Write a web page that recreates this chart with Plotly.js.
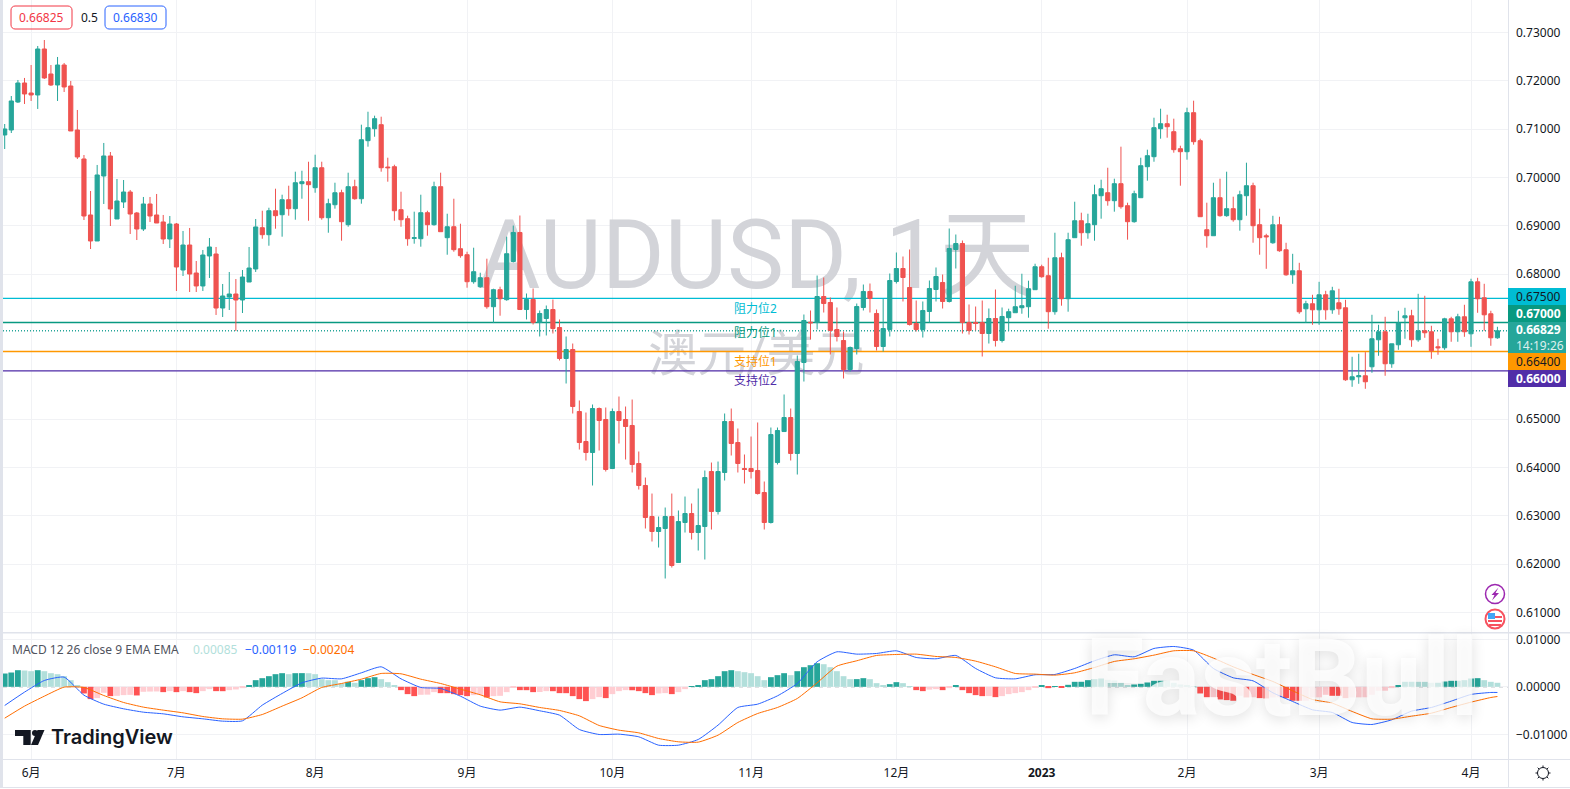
<!DOCTYPE html>
<html>
<head>
<meta charset="utf-8">
<script src="https://cdn.plot.ly/plotly-3.0.1.min.js"></script>
<style>
html, body { margin: 0; padding: 0; background: #fff; overflow: hidden; }
#chart { width: 1570px; height: 789px; }
</style>
</head>
<body>
<div id="chart"></div>
<script>
// prices are in 0.00001 units, one entry per daily candle
var opens = [70877,70980,71559,71952,71745,71704,72655,72138,71911,72324,
71890,70980,70381,69223,68685,70029,70443,69140,69491,69698,
69264,68933,69450,69223,69078,68726,69036,68085,68602,68023,
67755,68375,68416,67299,67527,67589,67465,67837,68106,68960,
68815,69311,69228,69539,69353,69870,69911,69787,70200,69166,
69435,69683,69022,69808,69559,70759,71007,71090,70214,70221,
69332,69146,68739,68732,69270,69022,69808,68753,68980,68525,
68401,67843,67740,67926,67326,67678,67471,68261,68861,67268,
67475,66999,67082,67268,66896,66255,66441,65159,64539,64311,
65221,64994,63980,65159,64994,64870,64084,63629,62988,62678,
62740,62988,62037,62864,63050,62657,62781,63918,63091,63898,
64952,64518,63980,63980,63939,63484,62864,64104,64745,65035,
64291,66172,67006,66999,67537,67413,66855,66627,66028,66462,
67310,67641,67186,66503,66855,67847,68116,67723,66979,66855,
67227,67682,67827,67434,68509,68633,66999,66999,66999,66772,
67082,66627,67099,67202,67305,67326,67678,68153,67967,67223,
68339,67491,68753,69104,68856,69022,69621,69683,69518,69870,
69415,69084,69580,70221,70428,71007,71110,70945,70593,70531,
71338,70759,68918,68794,69580,69208,69353,69125,69621,69828,
69022,68793,68648,69020,68503,67986,68069,67283,67387,67262,
67573,67262,67407,67304,65815,65877,65898,66084,66642,66808,
66146,66539,67097,67138,66642,66828,66808,66497,66477,67076,
66808,67118,66766,67841,67511,67180,66683];
var highs = [71104,71683,72014,72056,72324,72717,72841,72324,72490,72366,
71994,71394,70463,69719,70257,70712,70525,69967,69946,69740,
69285,69595,69595,69657,69223,69202,69057,68892,68954,68271,
68499,68747,68561,67796,68044,67899,68085,68561,69140,69311,
69373,69766,69642,69828,70118,70138,70324,70469,70324,69559,
69890,69745,70097,69952,71090,71358,71276,71255,70407,70262,
69704,69208,69291,69642,69311,69911,70097,69249,69559,69042,
68463,68546,68029,68319,67698,67740,68774,69005,69212,67599,
67703,67248,67351,67475,67062,66710,66565,65387,65138,65304,
65242,65242,65221,65469,65262,65407,64332,63794,63463,62988,
63174,63463,63112,63401,63257,63567,63939,64104,64125,65118,
65221,64808,64270,64642,64932,63712,64828,64828,65511,65221,
66317,67165,67248,67971,67930,67516,67310,66813,66503,67392,
67785,67806,67268,67489,68013,68447,68364,68509,67454,67434,
67868,68137,67992,68943,68819,68695,67372,67330,67454,67289,
67682,67310,67285,67760,68008,67864,68215,68195,68339,68856,
68443,68856,69497,69270,69249,69849,69952,70200,69973,70635,
69477,69725,70407,70573,71234,71420,71296,71214,70655,71441,
71586,70800,69477,69890,69973,70118,69601,69725,70304,69890,
69353,68834,69206,69186,68648,68420,68234,67449,67573,67841,
67655,67738,67697,67469,66291,66353,66387,67159,66952,67118,
66559,67242,67304,67262,67593,67552,66932,66663,67097,67118,
67180,67366,67904,67924,67800,67242,66911];
var lows = [70587,70918,71539,71518,71580,71415,72035,71890,71580,71766,
70960,70381,69119,68519,68685,69450,68995,69140,69367,68830,
68705,68892,69078,69057,68623,68540,67651,67961,67630,67630,
67651,67920,67155,67113,67258,66824,67196,67837,68044,68732,
68587,68939,68774,69208,69125,69559,69104,69683,69125,68856,
69353,68691,68980,69539,69456,70635,70841,70118,69911,69104,
68980,68587,68629,68567,68794,69001,68877,68401,68463,68339,
67719,67802,67719,67285,66988,67140,67450,68240,67268,67062,
66958,66710,66731,66772,66214,65738,65118,64373,64146,63629,
64353,63918,63980,64497,64166,63898,63546,62740,62471,62347,
61706,61933,62037,62657,62512,62285,62099,62719,63029,63732,
64249,63898,63670,63774,63443,62719,62843,64063,64745,64146,
63856,65779,66648,66855,67206,66338,66607,65841,65986,66338,
67248,67206,66420,66400,66710,67806,67434,66937,66813,66689,
66999,67434,67289,67413,68116,66772,66751,66834,66296,66565,
66503,66586,66830,67202,67181,67099,67678,67926,66871,67161,
67347,67223,68753,68587,68732,68691,69146,69415,69291,69353,
68712,69063,69580,69932,70324,70800,70821,70511,69828,70366,
70676,69187,68546,68794,69187,69187,69084,68898,69208,68649,
68401,68110,68627,68462,67966,67800,67180,66994,66952,66952,
67056,67180,67159,65794,65670,65732,65629,65960,66311,65898,
66063,66435,66663,66497,66601,66683,66249,66332,66435,66601,
66601,66704,66497,67200,66828,66518,66663];
var closes = [71001,71580,71952,71725,71704,72655,72056,71911,72324,71870,
70960,70422,69202,68685,70050,70443,69347,69512,69698,69243,
68933,69450,69202,69057,68726,69036,68147,68602,68002,67755,
68395,68561,67299,67548,67589,67465,67940,68126,68975,68815,
69311,69208,69539,69353,69890,69911,69849,70200,69166,69456,
69683,69084,69808,69559,70779,71028,71214,70200,70200,69311,
69125,68732,68753,69270,69022,69808,68877,68980,68505,68381,
67843,68050,67926,67326,67678,67491,68422,68861,67268,67475,
66999,67186,67268,66875,66255,66441,65262,64518,64311,65221,
64973,63960,65159,64973,64849,64063,63629,62967,62678,62760,
62988,61975,62884,63050,62657,62802,63794,63091,63918,64952,
64497,64084,63960,63918,63463,62864,64683,64766,65035,64291,
66193,67041,66993,67537,67392,66834,66710,66028,66483,67330,
67641,67496,66503,66875,67868,68116,67930,66958,66855,67248,
67703,67951,67434,68530,68633,66999,66834,66979,66772,67082,
66627,67124,67223,67326,67347,67698,68153,67946,67223,68339,
67491,68712,69104,68856,69042,69642,69766,69518,69870,69394,
69084,69663,70242,70449,71028,71110,71048,70573,70531,71338,
70738,69187,68794,69580,69208,69353,69125,69642,69828,69001,
68753,68772,69020,68483,67986,68069,67221,67387,67262,67573,
67262,67655,67283,65815,65877,65898,65774,66663,66808,66146,
66559,66987,67138,66642,66828,66787,66415,66477,67076,66808,
67118,66808,67841,67490,67159,66683,66829];

// MACD histogram, one bar per candle
var hist = [280,301,350,343,329,350,329,287,266,224,
140,35,-140,-259,-238,-126,-196,-190,-175,-170,
-182,-105,-100,-98,-112,-91,-112,-91,-112,-133,
-91,-49,-91,-92,-70,-56,-28,35,140,182,
224,266,287,266,287,288,286,266,161,140,
139,70,105,84,140,182,203,161,98,21,
-70,-154,-196,-168,-165,-112,-133,-134,-154,-175,
-196,-175,-170,-224,-196,-190,-112,-14,-70,-71,
-112,-110,-91,-92,-133,-134,-196,-259,-301,-259,
-217,-238,-154,-91,-70,-72,-91,-133,-175,-140,
-133,-154,-112,-49,5,35,140,161,224,329,
350,329,308,287,224,140,203,245,287,245,
329,413,455,497,476,413,329,224,161,162,
182,161,77,35,56,98,77,14,-70,-91,
-60,-49,-70,-28,35,-70,-133,-175,-196,-195,
-217,-196,-154,-133,-112,-70,-5,21,-28,14,
-14,42,105,106,140,161,175,147,133,91,
35,49,63,91,126,127,125,84,49,35,
7,-140,-238,-236,-266,-280,-294,-189,-224,-220,
-238,-245,-224,-220,-238,-294,-295,-294,-224,-222,
-168,-189,-190,-238,-224,-222,-220,-168,-84,-82,
-28,35,105,106,105,104,84,85,112,126,
127,140,175,182,140,105,85];

// MACD and signal lines, read every third candle
var macdIdx = [0,3,6,9,12,15,18,21,24,27,30,33,36,39,42,45,48,51,54,57,60,63,66,69,72,75,78,
81,84,87,90,93,96,99,102,105,108,111,114,117,120,123,126,129,132,135,138,141,144,147,150,153,156,
159,162,165,168,171,174,177,180,183,186,189,192,195,198,201,204,207,210,213,216,219,222,225,226];
var macdLine = [-393,-112,133,204,-176,-365,-463,-534,-569,-632,-674,-723,-716,-386,-140,84,183,168,295,421,168,-14,-35,-197,-407,-491,-428,
-505,-597,-899,-1004,-997,-1053,-1229,-1229,-1109,-807,-435,-365,-190,70,527,737,688,702,758,618,590,660,386,190,168,253,
260,386,548,674,632,807,849,772,386,190,126,-126,-309,-484,-541,-751,-793,-695,-512,-435,-302,-161,-119,-119];
var signalLine = [-660,-407,-197,-7,-14,-183,-330,-428,-491,-548,-625,-674,-681,-583,-407,-232,-14,70,161,281,274,161,70,-49,-168,-316,-358,
-435,-498,-611,-814,-913,-969,-1088,-1158,-1165,-1018,-751,-562,-435,-246,84,435,548,660,681,688,639,618,541,421,281,267,
246,295,407,534,590,667,758,758,604,421,260,112,-84,-267,-344,-519,-674,-681,-618,-555,-435,-323,-225,-204];

var monthIdx = [4,26,47,70,92,113,135,157,179,199,222];
var monthText = ['6月','7月','8月','9月','10月','11月','12月','<b>2023</b>','2月','3月','4月'];
var priceTicks = [0.61,0.62,0.63,0.64,0.65,0.66,0.67,0.68,0.69,0.70,0.71,0.72,0.73];
var macdTicks = [-0.01,0,0.01];

var levelNames = ['阻力位2','阻力位1','支持位1','支持位2'];
var levelPrices = [0.675,0.67,0.664,0.66];
var levelColors = ['#00bcd4','#089981','#ff9800','#512da8'];
var lastPrice = 0.66829;

var W = 1570, H = 789;
var left = 3, right = 1508, bottom = 759;   // plot frame in page pixels
var paneEnd = 632, macdStart = 633;
var xRange = [-0.257, 227.6];
var yRange = [0.60600, 0.73668];
var macdRange = [-0.0152, 0.01133];

function price(a) { return a.map(function (v) { return v / 100000; }); }
function px(x) { return (x - left) / (right - left); }
function py(y) { return 1 - y / bottom; }

var candleX = opens.map(function (v, i) { return i; });
var levelX = [xRange[0], xRange[1]];

var fontUI = '"Noto Sans", "Noto Sans CJK SC", sans-serif';
var ink = '#131722';
var watermark = '#d3d4d9';

var histColors = hist.map(function (v, i) {
  var prev = i ? hist[i - 1] : 0;
  if (v >= 0) return v > prev ? '#26a69a' : '#b2dfdb';
  return v < prev ? '#ff5252' : '#ffcdd2';
});

var traces = [];

// watermark sits on the base pane so the candles overlay it
traces.push({
  type: 'scatter', mode: 'text', xaxis: 'x', yaxis: 'y', hoverinfo: 'skip', showlegend: false,
  x: [113.8, 113.8], y: [0.68205, 0.66250],
  text: ['AUDUSD, 1天', '澳元/美元'],
  textposition: 'middle center',
  textfont: { family: 'Roboto, "Noto Sans CJK SC"', size: [96, 49], color: watermark }
});

levelPrices.forEach(function (p, i) {
  traces.push({
    type: 'scatter', mode: 'lines', xaxis: 'x', yaxis: 'y', hoverinfo: 'skip', showlegend: false,
    x: levelX, y: [p, p], line: { color: levelColors[i], width: 1.3 }
  });
});
traces.push({
  type: 'scatter', mode: 'lines', xaxis: 'x', yaxis: 'y', hoverinfo: 'skip', showlegend: false,
  x: levelX, y: [lastPrice, lastPrice], line: { color: '#26a69a', width: 1.3, dash: '1px,2px' }
});

traces.push({
  type: 'candlestick', xaxis: 'x2', yaxis: 'y2', showlegend: false,
  x: candleX, open: price(opens), high: price(highs), low: price(lows), close: price(closes),
  whiskerwidth: 0,
  increasing: { line: { color: '#26a69a', width: 1 }, fillcolor: '#26a69a' },
  decreasing: { line: { color: '#ef5350', width: 1 }, fillcolor: '#ef5350' }
});

traces.push({
  type: 'bar', xaxis: 'x3', yaxis: 'y3', showlegend: false,
  x: candleX, y: price(hist), marker: { color: histColors, line: { width: 0 } }
});
traces.push({
  type: 'scatter', mode: 'lines', xaxis: 'x3', yaxis: 'y3', showlegend: false,
  x: macdIdx, y: price(macdLine), line: { color: '#2962ff', width: 1, shape: 'spline', smoothing: 0.5 }
});
traces.push({
  type: 'scatter', mode: 'lines', xaxis: 'x3', yaxis: 'y3', showlegend: false,
  x: macdIdx, y: price(signalLine), line: { color: '#ff6d00', width: 1, shape: 'spline', smoothing: 0.5 }
});

var shapes = [];
var frame = '#e0e3eb';
function rect(x0, y0, x1, y1, fill, stroke, sw) {
  shapes.push({
    type: 'rect', xref: 'paper', yref: 'paper', x0: px(x0), x1: px(x1), y0: py(y0), y1: py(y1),
    fillcolor: fill || 'rgba(0,0,0,0)', line: { color: stroke || fill, width: sw === undefined ? 0 : sw }
  });
}
function pathShape(d, fill, stroke, sw) {
  shapes.push({
    type: 'path', xref: 'paper', yref: 'paper', path: d,
    fillcolor: fill || 'rgba(0,0,0,0)', line: { color: stroke || fill, width: sw || 0 }
  });
}
function P(x, y) { return px(x) + ',' + py(y); }
function poly(pts) {
  return 'M' + pts.map(function (p) { return P(p[0], p[1]); }).join(' L') + ' Z';
}
function roundBox(x0, y0, x1, y1, r) {
  var n = 4, pts = [];
  [[x1 - r, y0 + r, -90], [x1 - r, y1 - r, 0], [x0 + r, y1 - r, 90], [x0 + r, y0 + r, 180]].forEach(function (c) {
    for (var k = 0; k <= n; k++) {
      var a = (c[2] + k * 90 / n) * Math.PI / 180;
      pts.push([c[0] + r * Math.cos(a), c[1] + r * Math.sin(a)]);
    }
  });
  return poly(pts);
}
function circle(cx, cy, r, fill, stroke, sw) {
  shapes.push({
    type: 'circle', xref: 'paper', yref: 'paper',
    x0: px(cx - r), x1: px(cx + r), y0: py(cy - r), y1: py(cy + r),
    fillcolor: fill || 'rgba(0,0,0,0)', line: { color: stroke, width: sw }
  });
}

// frame lines and the strip at the left edge
rect(0, 0, left, 787, frame);
rect(right, 0, right + 1, 787, frame);
rect(left, paneEnd, W, macdStart + 0.5, frame);
rect(left, bottom, W, bottom + 1, frame);
rect(0, 787, W, 788, frame);
shapes.push({
  type: 'line', xref: 'paper', yref: 'y3', x0: 0, x1: 1, y0: 0, y1: 0, layer: 'below',
  line: { color: '#9598a1', width: 1, dash: '4px,4px' }
});

// top left quote boxes
pathShape(roundBox(11, 6, 72, 29, 4), null, '#f23645', 1);
pathShape(roundBox(105, 6, 166, 29, 4), null, '#2962ff', 1);

// price tags on the axis
var tags = [
  { y0: 288, y1: 305, fill: '#00bcd4', lines: ['0.67500'], color: ink },
  { y0: 305, y1: 322, fill: '#089981', lines: ['<b>0.67000</b>'], color: '#ffffff' },
  { y0: 322, y1: 353, fill: '#26a69a', lines: ['<b>0.66829</b>', '14:19:26'], color: '#ffffff' },
  { y0: 353, y1: 370, fill: '#ff9800', lines: ['0.66400'], color: ink },
  { y0: 370, y1: 387, fill: '#512da8', lines: ['<b>0.66000</b>'], color: '#ffffff' }
];
tags.forEach(function (t) { rect(right, t.y0, 1566, t.y1, t.fill); });

// news icons above the MACD pane
circle(1495, 594, 9.5, '#ffffff', '#9c27b0', 1.5);
pathShape(poly([[1498.5, 587.5], [1491.5, 595], [1494.5, 595], [1492, 600.5], [1499, 593], [1495.5, 593]]), '#9c27b0');
circle(1495, 619, 9.5, '#ffffff', '#f7525f', 2);
rect(1488, 616, 1502, 618, '#f7525f');
rect(1488, 620, 1502, 622, '#f7525f');
rect(1489, 624, 1501, 626, '#f7525f');
rect(1488, 613, 1495, 619, '#42a5f5');

// settings icon
circle(1543, 773, 5.5, null, ink, 1);
for (var a = 0; a < 8; a++) {
  var t = a * Math.PI / 4;
  shapes.push({
    type: 'line', xref: 'paper', yref: 'paper',
    x0: px(1543 + 5.5 * Math.cos(t)), y0: py(773 + 5.5 * Math.sin(t)),
    x1: px(1543 + 7.5 * Math.cos(t)), y1: py(773 + 7.5 * Math.sin(t)),
    line: { color: ink, width: 1 }
  });
}

// TradingView mark
pathShape(poly([[15, 730], [30.7, 730], [30.7, 745], [23.3, 745], [23.3, 736], [15, 736]]), ink);
circle(35, 733, 3, ink, ink, 0);
pathShape(poly([[37.5, 730], [44.5, 730], [38, 745], [31, 745]]), ink);

var ann = [];
function label(text, x, y, size, color, anchor, extra) {
  var a = {
    text: text, xref: 'paper', yref: 'paper', x: px(x), y: py(y), showarrow: false,
    xanchor: anchor || 'left', yanchor: 'middle', borderpad: 0,
    font: { family: fontUI, size: size, color: color }
  };
  if (extra) Object.keys(extra).forEach(function (k) { a.font[k] = extra[k]; });
  ann.push(a);
}

label('0.66825', 41.5, 17.5, 12, '#f23645', 'center');
label('0.5', 89, 17.5, 12, ink, 'center');
label('0.66830', 135.5, 17.5, 12, '#2962ff', 'center');

levelNames.forEach(function (n, i) {
  label(n, 755, [308, 332, 361, 380][i], 12, levelColors[i], 'center');
});

tags.forEach(function (t) {
  t.lines.forEach(function (s, k) {
    var y = t.lines.length > 1 ? t.y0 + 8 + k * 15 : (t.y0 + t.y1) / 2;
    label(s, 1515, y, 12, k ? 'rgba(255,255,255,0.85)' : t.color);
  });
});

label('MACD 12 26 close 9 EMA EMA', 11, 649, 12, '#50535e');
label('0.00085', 192, 649, 12, '#b2dfdb');
label('−0.00119', 244, 649, 12, '#2962ff');
label('−0.00204', 302, 649, 12, '#ff6d00');

label('TradingView', 50, 737, 20, ink, 'left', { family: 'Inter, "Noto Sans"', weight: 600 });
label('FastBull', 1282, 678, 108, 'rgba(255,255,255,0.78)', 'center',
  { family: 'Roboto, "Noto Sans"', weight: 700, shadow: '0 3px 14px rgba(0,0,0,0.16)' });

var gridColor = '#f1f2f5';
var tickFont = { family: fontUI, size: 12, color: ink };

var layout = {
  width: W, height: H,
  margin: { l: left, r: W - right, t: 0, b: H - bottom, pad: 0 },
  paper_bgcolor: '#ffffff', plot_bgcolor: '#ffffff',
  showlegend: false, hovermode: false, dragmode: false,
  bargap: 0.12, boxgap: 0.3, boxgroupgap: 0.1,
  xaxis: {
    domain: [0, 1], anchor: 'y', type: 'linear', range: xRange, fixedrange: true,
    tickmode: 'array', tickvals: monthIdx, ticktext: monthText, showticklabels: false,
    showgrid: true, gridcolor: gridColor, gridwidth: 1, zeroline: false, ticks: ''
  },
  yaxis: {
    domain: [(bottom - paneEnd) / bottom, 1], anchor: 'x', side: 'right', type: 'linear', range: yRange, fixedrange: true,
    tickmode: 'array', tickvals: priceTicks, tickformat: '.5f', tickfont: tickFont, ticklabelstandoff: 7,
    showgrid: true, gridcolor: gridColor, gridwidth: 1, zeroline: false, ticks: ''
  },
  xaxis2: {
    overlaying: 'x', anchor: 'y2', type: 'linear', range: xRange, fixedrange: true, visible: false,
    rangeslider: { visible: false }
  },
  yaxis2: {
    overlaying: 'y', anchor: 'x2', side: 'right', type: 'linear', range: yRange, fixedrange: true, visible: false
  },
  xaxis3: {
    domain: [0, 1], anchor: 'y3', type: 'linear', range: xRange, fixedrange: true,
    tickmode: 'array', tickvals: monthIdx, ticktext: monthText, tickfont: tickFont, ticklabelstandoff: 5,
    showgrid: true, gridcolor: gridColor, gridwidth: 1, zeroline: false, ticks: ''
  },
  yaxis3: {
    domain: [0, (bottom - macdStart) / bottom], anchor: 'x3', side: 'right', type: 'linear', range: macdRange, fixedrange: true,
    tickmode: 'array', tickvals: macdTicks, tickformat: '.5f', tickfont: tickFont, ticklabelstandoff: 7,
    showgrid: true, gridcolor: gridColor, gridwidth: 1, zeroline: false, ticks: ''
  },
  shapes: shapes,
  annotations: ann
};

Plotly.newPlot('chart', traces, layout, { displayModeBar: false, responsive: false });
</script>
</body>
</html>
